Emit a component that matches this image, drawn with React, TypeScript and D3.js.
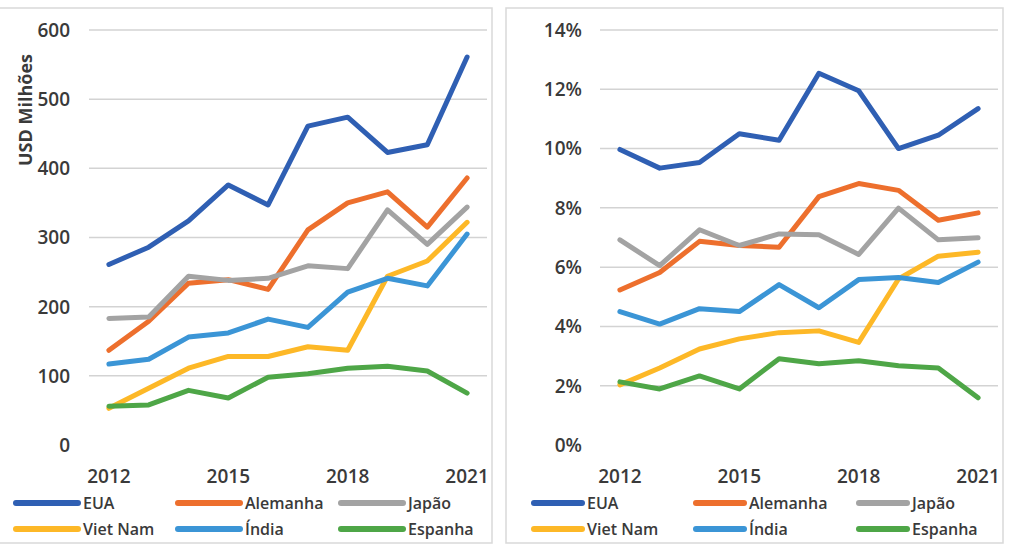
import * as d3 from 'd3';
import React from 'react';

const years = [2012, 2013, 2014, 2015, 2016, 2017, 2018, 2019, 2020, 2021];
const yearTicks = [2012, 2015, 2018, 2021];
const countries = ['EUA', 'Alemanha', 'Japão', 'Viet Nam', 'Índia', 'Espanha'];
const colors = ['#2f5fb3', '#ed6f2d', '#a3a3a3', '#fdb827', '#3b95d6', '#4ea647'];

// USD milhões
const usdEUA = [261, 286, 324, 376, 347, 461, 474, 423, 434, 561];
const usdAlemanha = [137, 179, 234, 239, 225, 311, 350, 366, 315, 386];
const usdJapao = [183, 185, 244, 238, 241, 259, 255, 340, 290, 344];
const usdVietNam = [53, 82, 111, 128, 128, 142, 137, 244, 266, 322];
const usdIndia = [117, 124, 156, 162, 182, 170, 221, 241, 230, 305];
const usdEspanha = [56, 58, 79, 68, 98, 103, 111, 114, 107, 75];
const usdTicks = [0, 100, 200, 300, 400, 500, 600];

// participação (%)
const pctEUA = [9.97, 9.34, 9.53, 10.5, 10.28, 12.54, 11.95, 10.0, 10.45, 11.35];
const pctAlemanha = [5.23, 5.82, 6.87, 6.73, 6.67, 8.38, 8.82, 8.59, 7.58, 7.83];
const pctJapao = [6.92, 6.05, 7.26, 6.73, 7.12, 7.09, 6.43, 7.99, 6.92, 6.99];
const pctVietNam = [2.03, 2.6, 3.24, 3.58, 3.79, 3.85, 3.46, 5.6, 6.37, 6.5];
const pctIndia = [4.5, 4.08, 4.6, 4.5, 5.41, 4.63, 5.58, 5.65, 5.48, 6.17];
const pctEspanha = [2.13, 1.89, 2.33, 1.89, 2.91, 2.74, 2.84, 2.67, 2.6, 1.59];
const pctTicks = [0, 2, 4, 6, 8, 10, 12, 14];

const FONT = "'Open Sans', sans-serif";
const TXT = '#3a3a3a';

interface PanelProps {
  box: [number, number, number, number];
  plotX: [number, number];
  series: number[][];
  ticks: number[];
  yMax: number;
  fmt: (v: number) => string;
  labelX: number;
  title?: string;
  legendX: [number, number, number];
  swatchW: number;
}

const Panel = ({ box, plotX, series, ticks, yMax, fmt, labelX, title, legendX, swatchW }: PanelProps) => {
  const x = d3.scalePoint<number>().domain(years).range(plotX).padding(0.5);
  const y = d3.scaleLinear().domain([0, yMax]).range([445, 30]);
  const line = d3
    .line<number>()
    .x((_, i) => x(years[i]) as number)
    .y((d) => y(d));

  return (
    <g fontFamily={FONT} fill={TXT}>
      <rect x={box[0]} y={box[1]} width={box[2]} height={box[3]} fill="#fff" stroke="#d9d9d9" strokeWidth={1.5} />
      {ticks.map((t) =>
        t === 0 ? null : (
          <line key={t} x1={plotX[0]} x2={plotX[1]} y1={y(t)} y2={y(t)} stroke="#d3d3d3" strokeWidth={1.5} />
        )
      )}
      {ticks.map((t) => (
        <text key={t} x={labelX} y={y(t)} dy="0.36em" textAnchor="end" fontSize={19} fontWeight={600}>
          {fmt(t)}
        </text>
      ))}
      {yearTicks.map((yr) => (
        <text key={yr} x={x(yr)} y={476} dy="0.36em" textAnchor="middle" fontSize={19} fontWeight={600}>
          {yr}
        </text>
      ))}
      {title && (
        <text transform={`translate(26,110) rotate(-90)`} textAnchor="middle" dy="0.36em" fontSize={18} fontWeight={700}>
          {title}
        </text>
      )}
      {series.map((s, i) => (
        <path
          key={countries[i]}
          d={line(s) ?? ''}
          fill="none"
          stroke={colors[i]}
          strokeWidth={5}
          strokeLinejoin="round"
          strokeLinecap="round"
        />
      ))}
      {countries.map((c, i) => {
        const lx = legendX[i % 3];
        const ly = i < 3 ? 503 : 529;
        return (
          <g key={c}>
            <line x1={lx} x2={lx + swatchW} y1={ly} y2={ly} stroke={colors[i]} strokeWidth={6} strokeLinecap="round" />
            <text x={lx + swatchW + 5} y={ly} dy="0.36em" fontSize={16} fontWeight={600}>
              {c}
            </text>
          </g>
        );
      })}
    </g>
  );
};

const App = () => (
  <svg width={1013} height={544} style={{ position: 'absolute', left: 0, top: 0 }}>
    <rect width={1013} height={544} fill="#fff" />
    <Panel
      box={[-2, 8, 494, 535]}
      plotX={[89, 487]}
      series={[usdEUA, usdAlemanha, usdJapao, usdVietNam, usdIndia, usdEspanha]}
      ticks={usdTicks}
      yMax={600}
      fmt={(v) => String(v)}
      labelX={70}
      title="USD Milhões"
      legendX={[16, 178, 341]}
      swatchW={62}
    />
    <Panel
      box={[506, 8, 497, 535]}
      plotX={[600, 998]}
      series={[pctEUA, pctAlemanha, pctJapao, pctVietNam, pctIndia, pctEspanha]}
      ticks={pctTicks}
      yMax={14}
      fmt={(v) => `${v}%`}
      labelX={582}
      legendX={[534, 696, 859]}
      swatchW={48}
    />
  </svg>
);

export default App;
